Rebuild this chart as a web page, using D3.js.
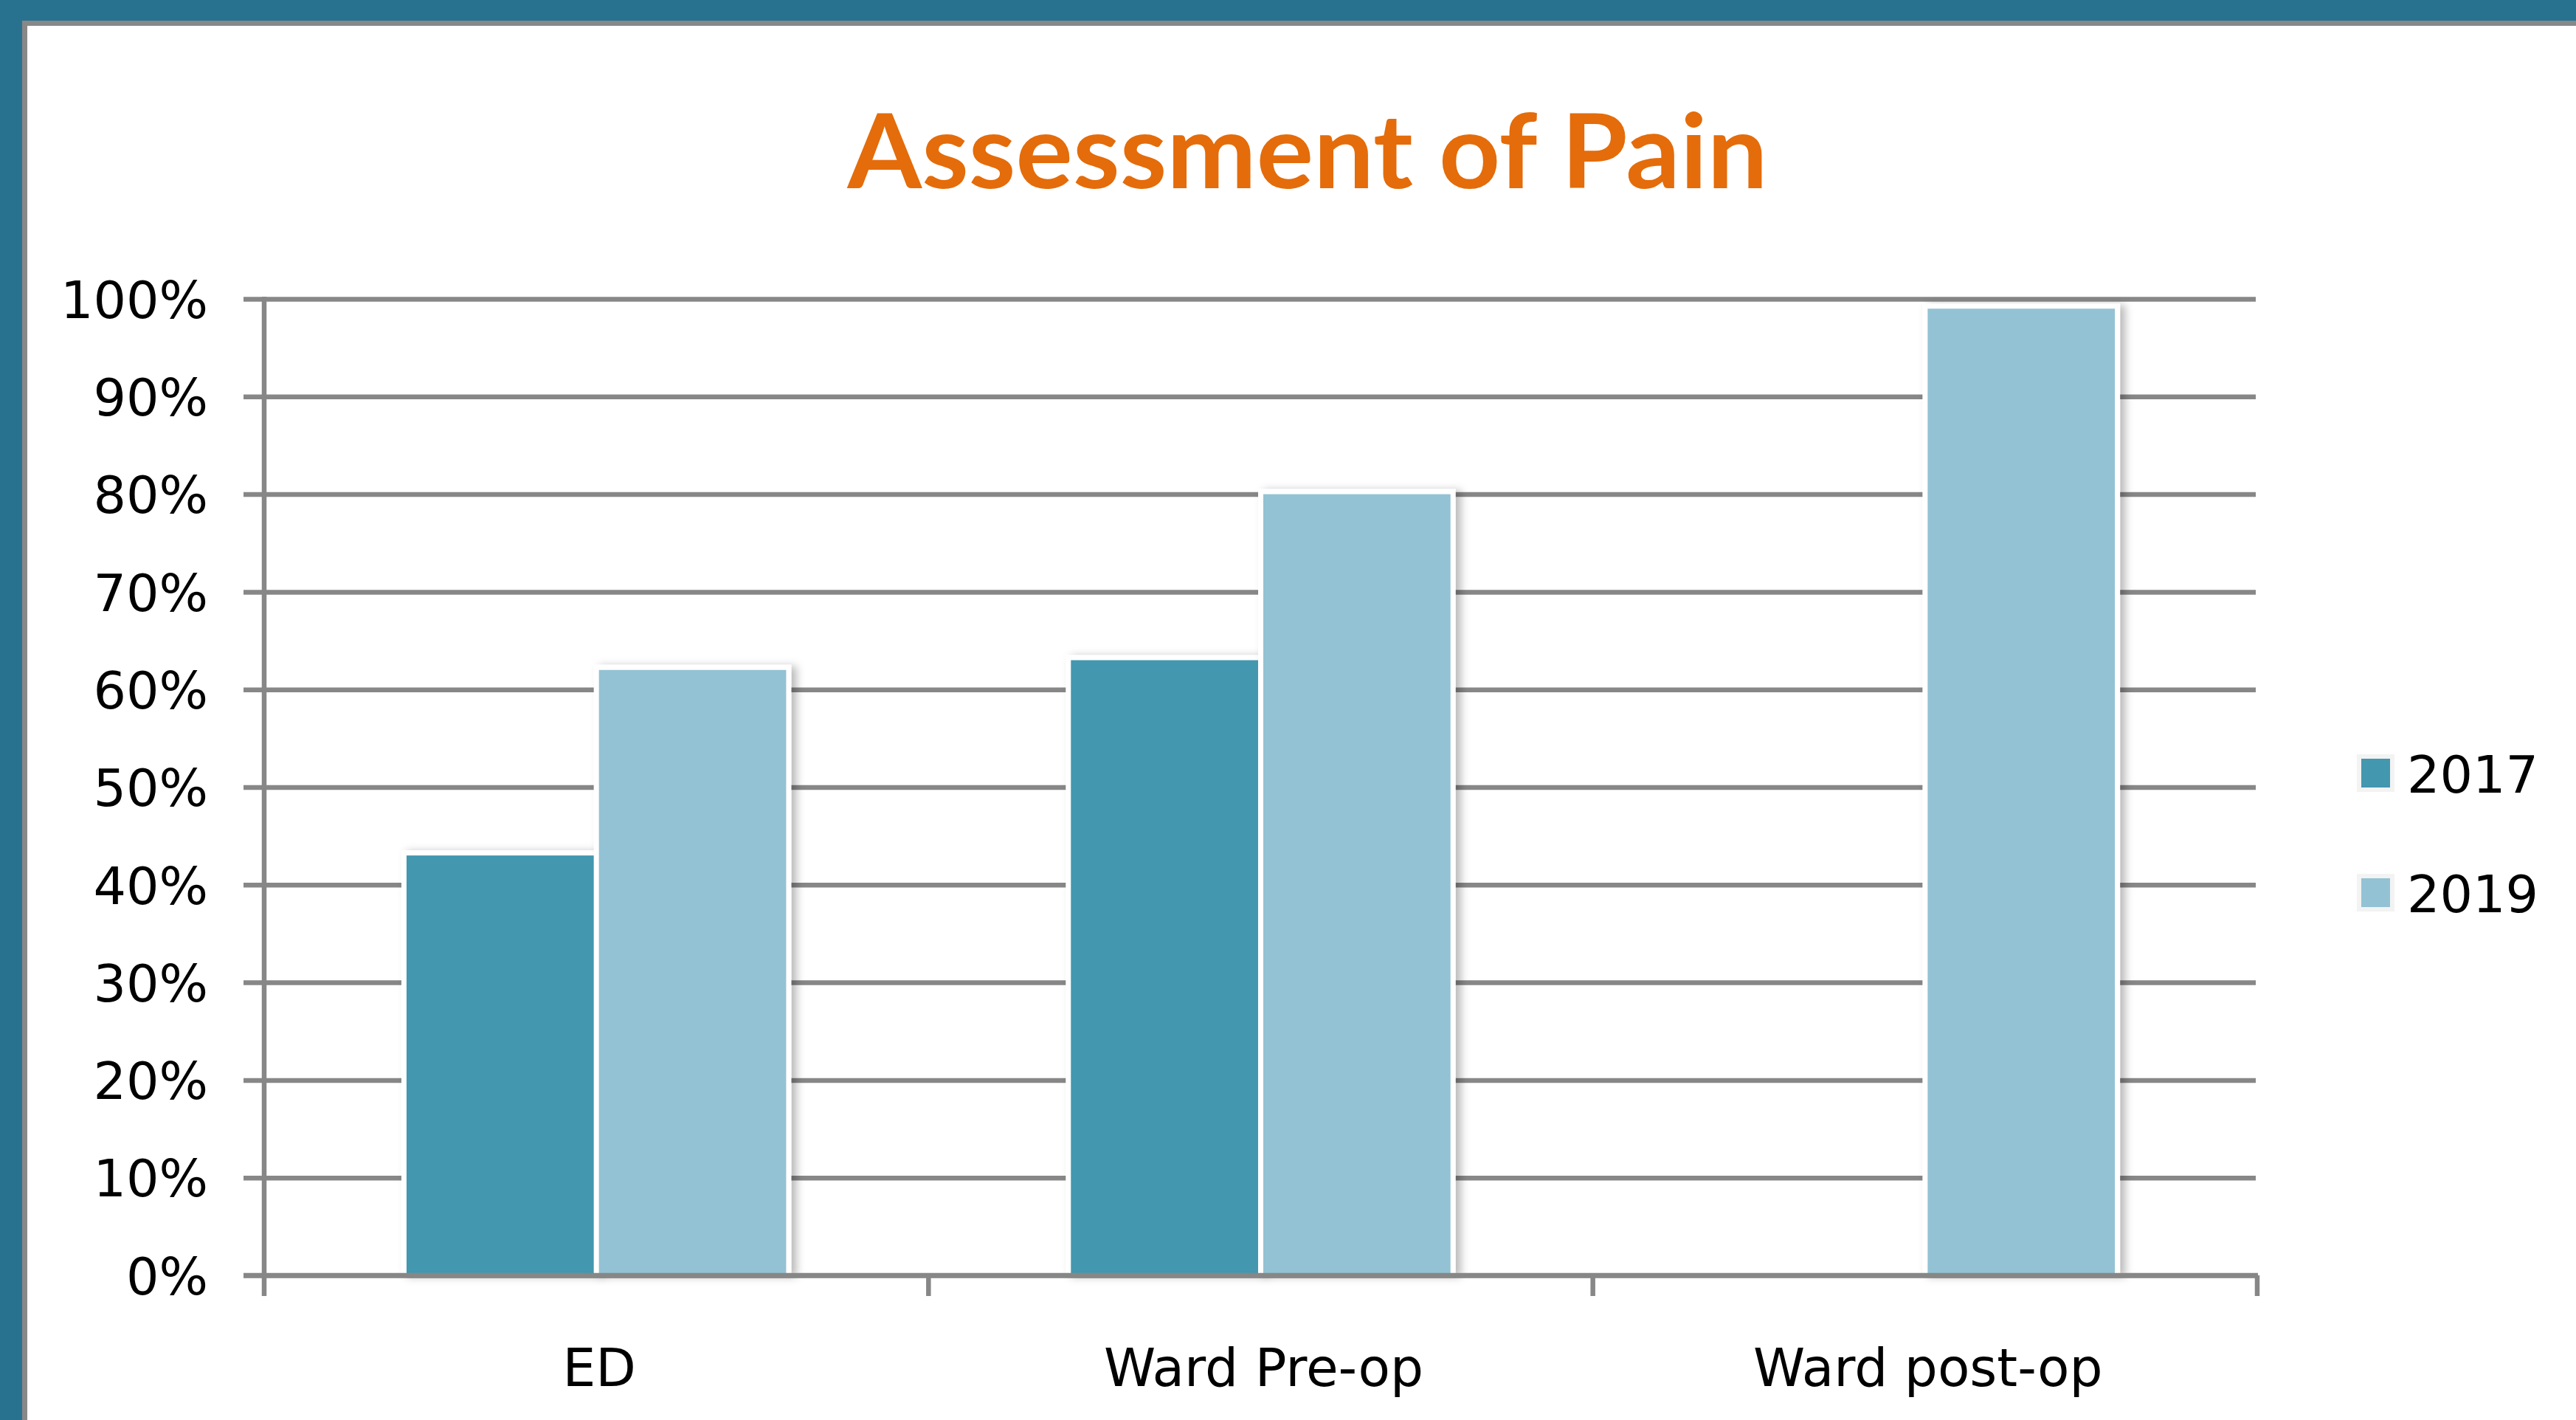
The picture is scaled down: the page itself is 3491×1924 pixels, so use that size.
<!DOCTYPE html>
<html>
<head>
<meta charset="utf-8">
<script src="https://cdn.jsdelivr.net/npm/d3@7"></script>
<style>
  html, body { margin: 0; padding: 0; background: #ffffff; }
  svg { display: block; }
</style>
</head>
<body>
<script>
// ---- data ----
const categories = ["ED", "Ward Pre-op", "Ward post-op"];
const seriesNames = ["2017", "2019"];
const values2017 = [43, 63, null];
const values2019 = [62, 80, 99];
const yTicks = [0, 10, 20, 30, 40, 50, 60, 70, 80, 90, 100];
const titleText = "Assessment of Pain";
const seriesColors = ["#4397af", "#93c2d4"];

// ---- layout ----
const W = 3491, H = 1924;
const plot = { left: 358, right: 3057, top: 405, bottom: 1728 };

const svg = d3.select("body").append("svg").attr("width", W).attr("height", H);

// frame
svg.append("rect").attr("x", 0).attr("y", 0).attr("width", W).attr("height", H).attr("fill", "#ffffff");
svg.append("rect").attr("x", 0).attr("y", 0).attr("width", W).attr("height", 28).attr("fill", "#28728f");
svg.append("rect").attr("x", 0).attr("y", 0).attr("width", 30).attr("height", H).attr("fill", "#28728f");
svg.append("rect").attr("x", 30).attr("y", 28).attr("width", W - 30).attr("height", 7).attr("fill", "#888888");
svg.append("rect").attr("x", 30).attr("y", 28).attr("width", 7).attr("height", H - 28).attr("fill", "#888888");

// shadow filter
const defs = svg.append("defs");
const f = defs.append("filter").attr("id", "shadow").attr("x", "-20%").attr("y", "-10%").attr("width", "140%").attr("height", "120%");
f.append("feDropShadow").attr("dx", 7).attr("dy", 2).attr("stdDeviation", 6)
  .attr("flood-color", "#000000").attr("flood-opacity", 0.28);

// title
svg.append("text")
  .attr("x", 1772).attr("y", 255)
  .attr("text-anchor", "middle")
  .attr("font-family", "Lato, 'Open Sans', sans-serif")
  .attr("font-weight", "bold")
  .attr("font-size", 140)
  .attr("fill", "#e46c0a")
  .attr("textLength", 1247)
  .attr("lengthAdjust", "spacingAndGlyphs")
  .text(titleText);

// scales
const x0 = d3.scaleBand().domain(categories).range([plot.left, plot.right + 2]).padding(0);
const x1 = d3.scaleBand().domain(seriesNames).range([0, x0.bandwidth()])
  .paddingInner(0.027).paddingOuter(0.74);
const y = d3.scaleLinear().domain([0, 100]).range([plot.bottom, plot.top]);

const gridColor = "#878787";
const lineW = 6.5;

// y axis with gridlines
const yAxis = d3.axisLeft(y).tickValues(yTicks).tickFormat(d => d + "%").tickSizeOuter(0);
const gy = svg.append("g").attr("transform", `translate(${plot.left},0)`).call(yAxis);
gy.select(".domain").remove();
gy.selectAll(".tick line")
  .attr("x1", -28).attr("x2", plot.right - plot.left)
  .attr("stroke", gridColor).attr("stroke-width", lineW);
gy.selectAll(".tick text")
  .attr("x", -76).attr("dy", "0.36em")
  .attr("font-family", "'DejaVu Sans', sans-serif")
  .attr("font-size", 70)
  .attr("fill", "#000000");

// y axis line
svg.append("line")
  .attr("x1", plot.left).attr("x2", plot.left)
  .attr("y1", plot.top - 3).attr("y2", plot.bottom + 28)
  .attr("stroke", gridColor).attr("stroke-width", lineW);

// bars
const data = [];
categories.forEach((c, i) => {
  [values2017, values2019].forEach((arr, s) => {
    if (arr[i] != null) data.push({ cat: c, series: seriesNames[s], value: arr[i], color: seriesColors[s] });
  });
});

const gBars = svg.append("g");
const pad = 7;
gBars.selectAll("rect.outline").data(data).join("rect")
  .attr("class", "outline")
  .attr("x", d => x0(d.cat) + x1(d.series) - pad)
  .attr("y", d => y(d.value) - pad)
  .attr("width", x1.bandwidth() + 2 * pad)
  .attr("height", d => plot.bottom - y(d.value) + pad)
  .attr("fill", "#ffffff")
  .attr("filter", "url(#shadow)");
gBars.selectAll("rect.bar").data(data).join("rect")
  .attr("class", "bar")
  .attr("x", d => x0(d.cat) + x1(d.series))
  .attr("y", d => y(d.value))
  .attr("width", x1.bandwidth())
  .attr("height", d => plot.bottom - y(d.value))
  .attr("fill", d => d.color);

// x axis
const gx = svg.append("g").attr("transform", `translate(0,${plot.bottom})`);
gx.append("line")
  .attr("x1", plot.left - 28).attr("x2", plot.right + 3)
  .attr("y1", 0).attr("y2", 0)
  .attr("stroke", gridColor).attr("stroke-width", lineW);
const boundaries = categories.map(c => x0(c)).concat([x0.range()[1]]);
gx.selectAll("line.tick").data(boundaries.slice(1)).join("line")
  .attr("class", "tick")
  .attr("x1", d => d).attr("x2", d => d)
  .attr("y1", 0).attr("y2", 28)
  .attr("stroke", gridColor).attr("stroke-width", lineW);
gx.selectAll("text").data(categories).join("text")
  .attr("x", d => x0(d) + x0.bandwidth() / 2 + 4)
  .attr("y", 1878 - plot.bottom)
  .attr("text-anchor", "middle")
  .attr("font-family", "'DejaVu Sans', sans-serif")
  .attr("font-size", 71)
  .attr("fill", "#000000")
  .text(d => d);

// legend
const legend = svg.append("g");
const legendRows = seriesNames.map((s, i) => ({ name: s, color: seriesColors[i], y: 1048 + i * 162 }));
legend.selectAll("rect").data(legendRows).join("rect")
  .attr("x", 3197).attr("y", d => d.y - 23)
  .attr("width", 45).attr("height", 45)
  .attr("fill", d => d.color)
  .attr("stroke", "#f3f3f3").attr("stroke-width", 6);
legend.selectAll("text").data(legendRows).join("text")
  .attr("x", 3262).attr("y", d => d.y + 26)
  .attr("font-family", "'DejaVu Sans', sans-serif")
  .attr("font-size", 70)
  .attr("fill", "#000000")
  .text(d => d.name);
</script>
</body>
</html>
